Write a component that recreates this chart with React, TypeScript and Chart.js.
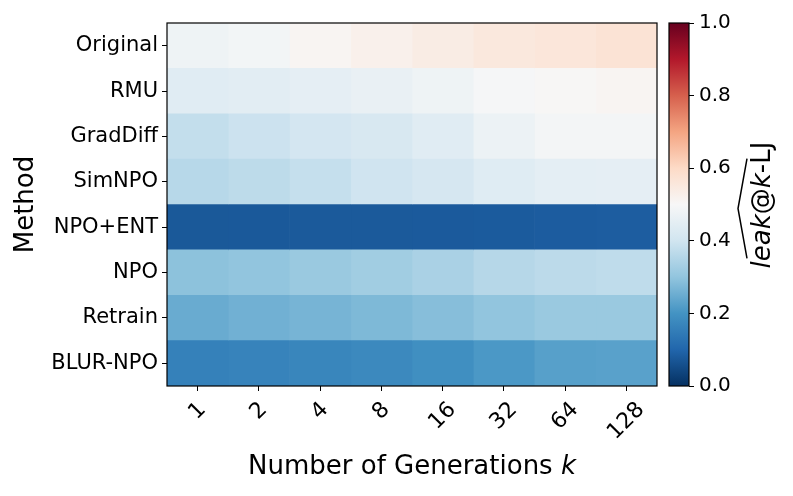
import React, { useEffect, useRef } from 'react';
import { Chart, registerables } from 'chart.js';

Chart.register(...registerables);

const methods = ['Original', 'RMU', 'GradDiff', 'SimNPO', 'NPO+ENT', 'NPO', 'Retrain', 'BLUR-NPO'];
const kLabels = ['1', '2', '4', '8', '16', '32', '64', '128'];

// leak@k-LJ estimates, one array per method, columns follow kLabels
const original = [0.476, 0.487, 0.51, 0.525, 0.54, 0.554, 0.56, 0.57];
const rmu = [0.44, 0.445, 0.452, 0.462, 0.476, 0.495, 0.505, 0.51];
const gradDiff = [0.378, 0.392, 0.408, 0.418, 0.44, 0.47, 0.49, 0.49];
const simNpo = [0.359, 0.368, 0.381, 0.398, 0.413, 0.437, 0.45, 0.452];
const npoEnt = [0.075, 0.076, 0.077, 0.077, 0.078, 0.08, 0.082, 0.084];
const npo = [0.294, 0.3, 0.313, 0.324, 0.338, 0.357, 0.367, 0.371];
const retrain = [0.248, 0.258, 0.266, 0.275, 0.286, 0.3, 0.313, 0.312];
const blurNpo = [0.159, 0.165, 0.17, 0.178, 0.19, 0.21, 0.225, 0.228];

const leakRows = [original, rmu, gradDiff, simNpo, npoEnt, npo, retrain, blurNpo];
const cbTicks = [0, 0.2, 0.4, 0.6, 0.8, 1.0];

const RDBU_R = ['#053061', '#2166ac', '#4393c3', '#92c5de', '#d1e5f0', '#f7f7f7', '#fddbc7', '#f4a582', '#d6604d', '#b2182b', '#67001f'];

function hexToRgb(h: string) {
  return [parseInt(h.slice(1, 3), 16), parseInt(h.slice(3, 5), 16), parseInt(h.slice(5, 7), 16)];
}

function cmap(v: number) {
  const c = Math.max(0, Math.min(1, v)) * 10;
  const i = Math.min(9, Math.floor(c));
  const f = c - i;
  const a = hexToRgb(RDBU_R[i]);
  const b = hexToRgb(RDBU_R[i + 1]);
  const m = a.map((x, j) => Math.round(x + (b[j] - x) * f));
  return `rgb(${m[0]},${m[1]},${m[2]})`;
}

const FONT = '"DejaVu Sans", sans-serif';

function drawSegments(ctx: CanvasRenderingContext2D, segs: [string, boolean][], size: number, cx: number, cy: number) {
  const widths = segs.map(([t, it]) => {
    ctx.font = `${it ? 'italic ' : ''}${size}px ${FONT}`;
    return ctx.measureText(t).width;
  });
  const total = widths.reduce((a, b) => a + b, 0);
  let x = cx - total / 2;
  ctx.textAlign = 'left';
  ctx.textBaseline = 'alphabetic';
  segs.forEach(([t, it], i) => {
    ctx.font = `${it ? 'italic ' : ''}${size}px ${FONT}`;
    ctx.fillText(t, x, cy);
    x += widths[i];
  });
  return total;
}

const decor = {
  id: 'decor',
  afterDraw(chart: any) {
    const ctx: CanvasRenderingContext2D = chart.ctx;
    const ca = chart.chartArea;
    ctx.save();
    ctx.strokeStyle = '#000';
    ctx.fillStyle = '#000';
    ctx.lineWidth = 1.2;
    ctx.strokeRect(ca.left, ca.top, ca.right - ca.left, ca.bottom - ca.top);

    // colorbar
    const cb = chart.scales.cb;
    const y1 = cb.getPixelForValue(1);
    const y0 = cb.getPixelForValue(0);
    const g = ctx.createLinearGradient(0, y0, 0, y1);
    RDBU_R.forEach((c, i) => g.addColorStop(i / 10, c));
    ctx.fillStyle = g;
    ctx.fillRect(cb.left - 20, y1, 20, y0 - y1);
    ctx.strokeRect(cb.left - 20, y1, 20, y0 - y1);
    ctx.fillStyle = '#000';

    // x tick labels rotated 45, centred on ticks
    const xs = chart.scales.x;
    ctx.font = `22px ${FONT}`;
    ctx.textAlign = 'center';
    ctx.textBaseline = 'middle';
    kLabels.forEach((lab, i) => {
      const px = xs.getPixelForValue(i + 0.5);
      const w = ctx.measureText(lab).width;
      const H = (w + 21) * Math.SQRT1_2;
      const cy = ca.bottom + 13 + H / 2;
      ctx.save();
      ctx.translate(px, cy);
      ctx.rotate(-Math.PI / 4);
      ctx.fillText(lab, 0, 0);
      ctx.restore();
    });

    // x title
    drawSegments(ctx, [['Number of Generations ', false], ['k', true]], 26, (ca.left + ca.right) / 2, 474);

    // y title
    ctx.save();
    ctx.translate(33, (ca.top + ca.bottom) / 2);
    ctx.rotate(-Math.PI / 2);
    drawSegments(ctx, [['Method', false]], 26, 0, 0);
    ctx.restore();

    // colorbar label with wide hat
    ctx.save();
    ctx.translate(770, 205);
    ctx.rotate(-Math.PI / 2);
    const tw = drawSegments(ctx, [['leak', true], ['@', false], ['k', true], ['-LJ', false]], 26, 0, 0);
    const left = -tw / 2 + 10;
    const right = tw / 2 - 17;
    ctx.lineWidth = 1.5;
    ctx.beginPath();
    ctx.moveTo(left, -23);
    ctx.lineTo((left + right) / 2, -32);
    ctx.lineTo(right, -23);
    ctx.stroke();
    ctx.restore();

    ctx.restore();
  },
};

export default function App() {
  const ref = useRef<HTMLCanvasElement>(null);
  useEffect(() => {
    if (!ref.current) return;
    Chart.defaults.font.family = FONT;
    Chart.defaults.color = '#000';
    const datasets = kLabels.map((k, j) => ({
      label: `k=${k}`,
      data: methods.map(() => 1),
      backgroundColor: leakRows.map((row) => cmap(row[j])),
      borderWidth: 0,
      barPercentage: 1,
      categoryPercentage: 1,
    }));
    const chart = new Chart(ref.current, {
      type: 'bar',
      data: { labels: methods, datasets },
      options: {
        indexAxis: 'y',
        animation: false,
        responsive: false,
        devicePixelRatio: 1,
        layout: { padding: { top: 23, left: 0, right: 0, bottom: 0 } },
        plugins: { legend: { display: false }, tooltip: { enabled: false } },
        scales: {
          x: {
            type: 'linear',
            stacked: true,
            min: 0,
            max: 8,
            afterBuildTicks: (s: any) => {
              s.ticks = kLabels.map((_, i) => ({ value: i + 0.5 }));
            },
            afterFit: (s: any) => {
              s.height = 110;
            },
            ticks: { display: false },
            grid: { drawOnChartArea: false, drawTicks: true, tickLength: 5, color: '#000', lineWidth: 1 },
            border: { display: false },
          },
          y: {
            type: 'category',
            stacked: true,
            afterFit: (s: any) => {
              s.width = 167;
            },
            ticks: { font: { size: 21 }, color: '#000', padding: 4 },
            grid: { offset: false, drawOnChartArea: false, drawTicks: true, tickLength: 5, color: '#000', lineWidth: 1 },
            border: { display: false },
          },
          gap: {
            type: 'linear',
            position: 'right',
            axis: 'y',
            weight: 0,
            offset: false,
            afterFit: (s: any) => {
              s.width = 32;
            },
            ticks: { display: false },
            grid: { display: false, offset: false },
            border: { display: false },
          },
          cb: {
            type: 'linear',
            position: 'right',
            axis: 'y',
            weight: 1,
            offset: false,
            min: 0,
            max: 1,
            afterBuildTicks: (s: any) => {
              s.ticks = cbTicks.map((v) => ({ value: v }));
            },
            afterFit: (s: any) => {
              s.width = 104;
            },
            ticks: { font: { size: 20 }, color: '#000', padding: 5, callback: (v: any) => Number(v).toFixed(1) },
            grid: { offset: false, drawOnChartArea: false, drawTicks: true, tickLength: 5, color: '#000', lineWidth: 1 },
            border: { display: false },
          },
        } as any,
      },
      plugins: [decor],
    });
    return () => chart.destroy();
  }, []);
  return (
    <div style={{ position: 'fixed', left: 0, top: 0, width: 793, height: 496, background: '#fff' }}>
      <canvas ref={ref} width={793} height={496} />
    </div>
  );
}
